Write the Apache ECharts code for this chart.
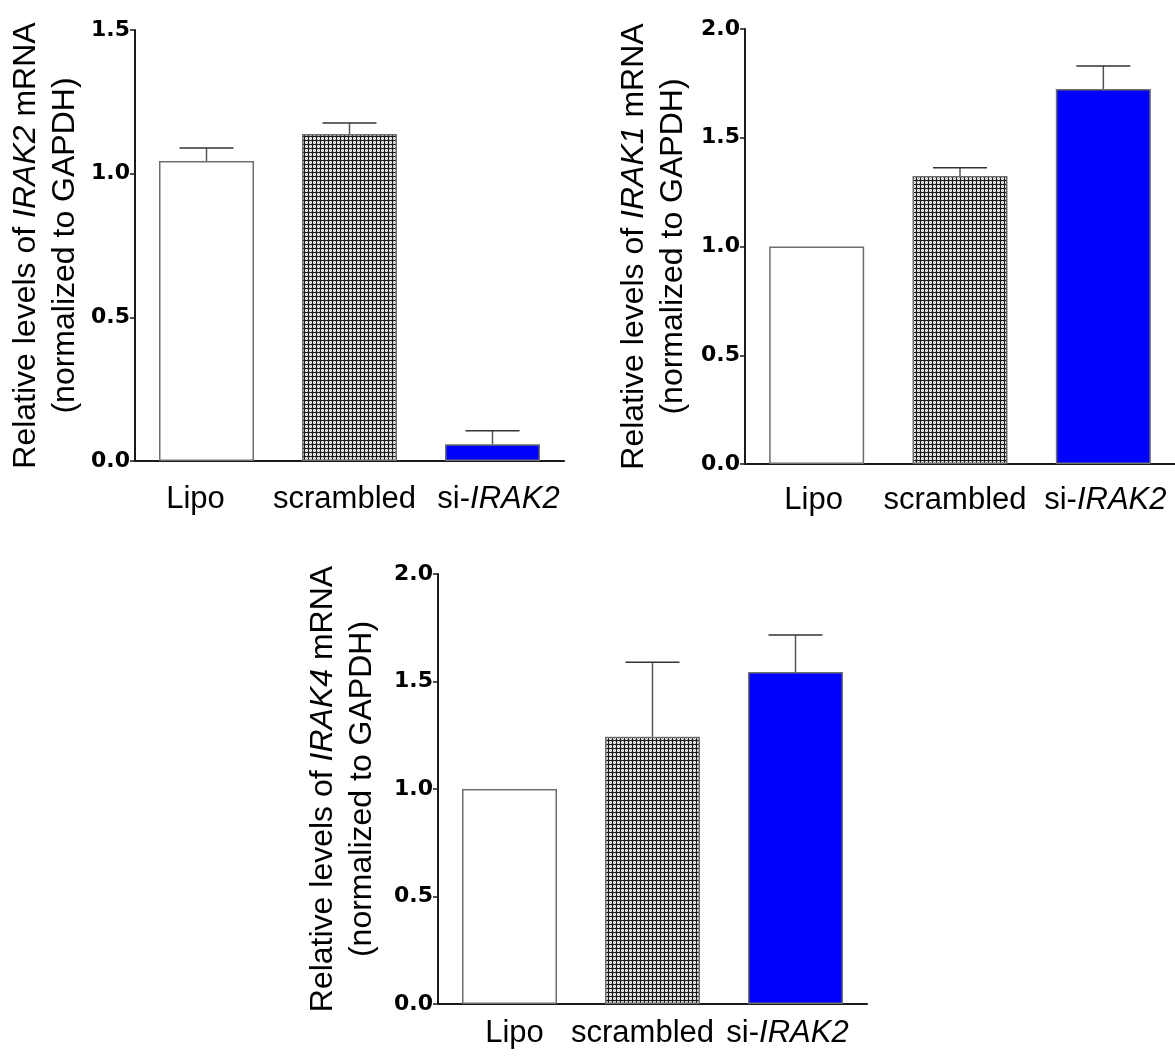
<!DOCTYPE html>
<html>
<head>
<meta charset="utf-8">
<script src="https://cdn.jsdelivr.net/npm/echarts@6/dist/echarts.min.js"></script>
<style>
html,body{margin:0;padding:0;background:#fff;}
#chart{width:1175px;height:1060px;}
</style>
</head>
<body>
<div id="chart"></div>
<script>
// ---- data ----
const categories = ['Lipo', 'scrambled', 'si-IRAK2'];

const irak2Mean = [1.044, 1.138, 0.058];
const irak2Err  = [0.045, 0.038, 0.047];

const irak1Mean = [1.0, 1.324, 1.724];
const irak1Err  = [0, 0.038, 0.106];

const irak4Mean = [1.0, 1.243, 1.544];
const irak4Err  = [0, 0.346, 0.172];

const genes = ['IRAK2', 'IRAK1', 'IRAK4'];
const yMax = [1.5, 2.0, 2.0];
const yTicks = [0.5, 0.5, 0.5];

// ---- styling ----
const FONT = '"Liberation Sans", Arial, sans-serif';
const TICKFONT = '"DejaVu Sans", sans-serif';

function makePattern() {
  const c = document.createElement('canvas');
  c.width = 4; c.height = 4;
  const ctx = c.getContext('2d');
  for (let y = 0; y < 4; y++) {
    for (let x = 0; x < 4; x++) {
      let col;
      if (x === 0 || y === 0) col = '#1a1a1a';
      else if ((x + y) % 2 === 0) col = '#b4b4b4';
      else col = '#ffffff';
      ctx.fillStyle = col;
      ctx.fillRect(x, y, 1, 1);
    }
  }
  return c;
}
const pattern = makePattern();
const fills = ['#ffffff', { image: pattern, repeat: 'repeat' }, '#0000ff'];

const grids = [
  { left: 135, top: 30, width: 429, height: 431 },
  { left: 745, top: 29, width: 430, height: 435 },
  { left: 438, top: 574, width: 429, height: 430 }
];
const nameGaps = [50, 52, 56];
const labelMargins = [23, 21, 14];
// horizontal nudges of category labels (px, + = right)
const labelShift = [[-11, -5, 6], [-3, -5, 2], [5, -10, -8]];

const means = [irak2Mean, irak1Mean, irak4Mean];
const errs = [irak2Err, irak1Err, irak4Err];

function richFor(shifts) {
  const r = {};
  shifts.forEach((s, k) => {
    const pad = [0, s < 0 ? -2 * s : 0, 0, s > 0 ? 2 * s : 0];
    r['n' + k] = { fontFamily: FONT, fontSize: 31, color: '#000', padding: pad };
    r['a' + k] = { fontFamily: FONT, fontSize: 31, color: '#000', padding: [0, 0, 0, s > 0 ? 2 * s : 0] };
    r['i' + k] = { fontFamily: FONT, fontSize: 31, color: '#000', fontStyle: 'italic', padding: [0, s < 0 ? -2 * s : 0, 0, 0] };
  });
  return r;
}

const option = {
  animation: false,
  backgroundColor: '#fff',
  grid: grids.map(g => Object.assign({ containLabel: false }, g)),
  xAxis: grids.map((g, i) => ({
    type: 'category',
    gridIndex: i,
    data: categories,
    axisLine: { lineStyle: { color: '#1a1a1a', width: 2 } },
    axisTick: { show: false },
    axisLabel: {
      margin: labelMargins[i],
      fontFamily: FONT,
      fontSize: 31,
      color: '#000',
      interval: 0,
      formatter: (v, idx) => {
        if (v.indexOf('si-') === 0) return '{a' + idx + '|si-}{i' + idx + '|' + v.slice(3) + '}';
        return '{n' + idx + '|' + v + '}';
      },
      rich: richFor(labelShift[i])
    }
  })),
  yAxis: grids.map((g, i) => ({
    type: 'value',
    gridIndex: i,
    min: 0,
    max: yMax[i],
    interval: yTicks[i],
    splitLine: { show: false },
    axisLine: { show: true, lineStyle: { color: '#1a1a1a', width: 2 } },
    axisTick: { show: true, length: 5, lineStyle: { color: '#1a1a1a', width: 1.5 } },
    axisLabel: {
      margin: 5,
      fontFamily: TICKFONT,
      fontWeight: 'bold',
      fontSize: 22,
      color: '#000',
      formatter: v => v.toFixed(1)
    },
    name: '{n|Relative levels of }{i|' + genes[i] + '}{n| mRNA}\n{n|(normalized to GAPDH)}',
    nameLocation: 'middle',
    nameRotate: 90,
    nameGap: nameGaps[i],
    nameTextStyle: {
      fontFamily: FONT,
      fontSize: 32,
      color: '#000',
      lineHeight: 39,
      rich: {
        n: { fontFamily: FONT, fontSize: 32, color: '#000', lineHeight: 39 },
        i: { fontFamily: FONT, fontSize: 32, fontStyle: 'italic', color: '#000', lineHeight: 39 }
      }
    }
  })),
  series: []
};

for (let i = 0; i < 3; i++) {
  option.series.push({
    type: 'bar',
    xAxisIndex: i,
    yAxisIndex: i,
    barWidth: 95,
    data: means[i].map((v, k) => ({
      value: v,
      itemStyle: { color: fills[k], borderColor: '#6e6e6e', borderWidth: 1.5 }
    })),
    z: 2
  });
  option.series.push({
    type: 'custom',
    xAxisIndex: i,
    yAxisIndex: i,
    z: 3,
    data: means[i].map((v, k) => [k, v, errs[i][k]]),
    renderItem: function (params, api) {
      const e = api.value(2);
      if (!e) return null;
      const x = api.value(0);
      const m = api.value(1);
      const p0 = api.coord([x, m]);
      const p1 = api.coord([x, m + e]);
      const hw = 27;
      return {
        type: 'group',
        children: [
          { type: 'line', shape: { x1: p0[0], y1: p0[1], x2: p1[0], y2: p1[1] },
            style: { stroke: '#555', lineWidth: 1.5 } },
          { type: 'line', shape: { x1: p1[0] - hw, y1: p1[1], x2: p1[0] + hw, y2: p1[1] },
            style: { stroke: '#333', lineWidth: 1.5 } }
        ]
      };
    }
  });
}

const chart = echarts.init(document.getElementById('chart'), null, { renderer: 'canvas' });
chart.setOption(option);
</script>
</body>
</html>
